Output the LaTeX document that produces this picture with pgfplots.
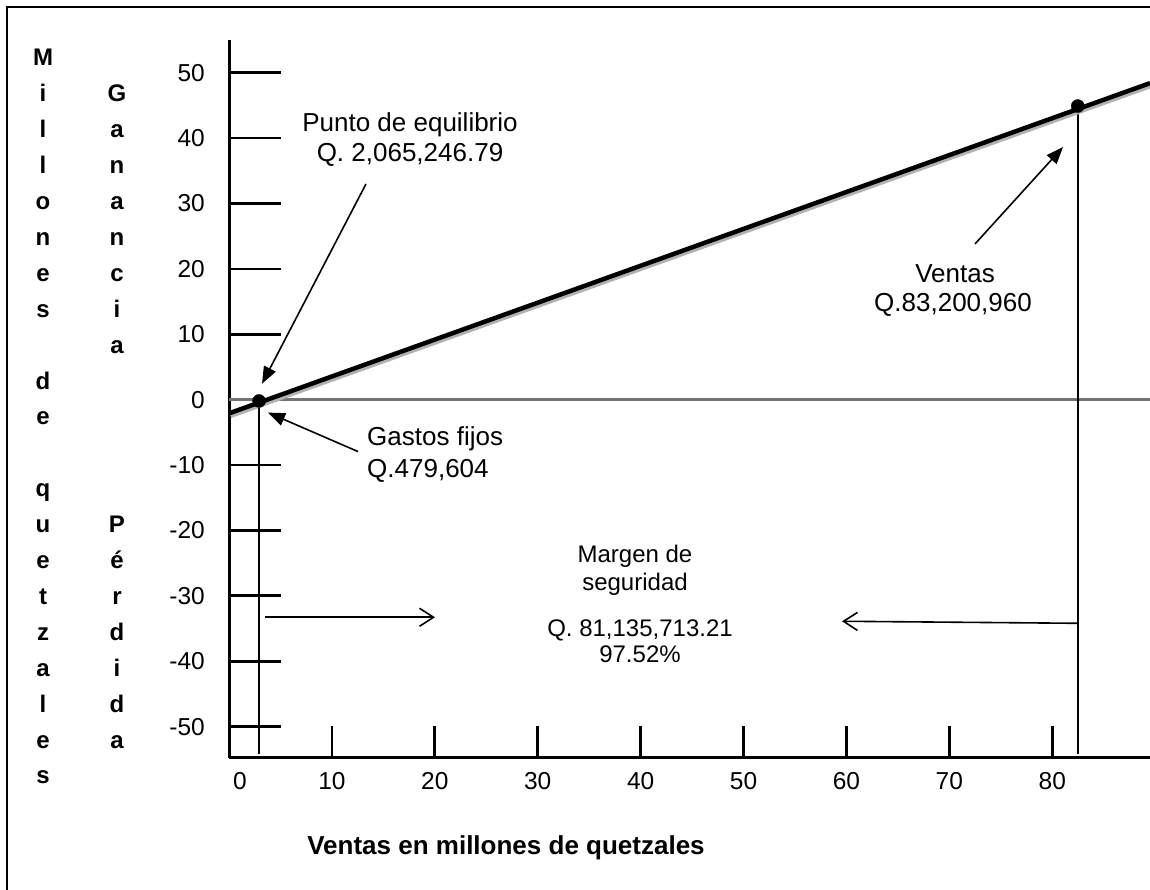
\documentclass[border=0pt]{standalone}
\usepackage{pgfplots}
\pgfplotsset{compat=1.18}
\usepackage{fontspec}
\setmainfont{Liberation Sans}
\usetikzlibrary{arrows.meta}
\begin{document}
\begin{tikzpicture}
\begin{axis}[
  scale only axis, width=921pt, height=718pt,
  at={(229pt,132pt)}, anchor=south west,
  xmin=0, xmax=89.5, ymin=-54.8, ymax=55,
  axis x line=bottom, axis y line=left,
  axis line style={-, line width=3pt, black},
  major tick length=0pt,
  xtick={0,10,20,30,40,50,60,70,80},
  xticklabels={\hspace*{22pt}0,10,20,30,40,50,60,70,80},
  ytick={-50,-40,-30,-20,-10,0,10,20,30,40,50},
  yticklabels={-50,-40,-30,-20,-10,0,10,20,30,40,50},
  tick label style={font=\fontsize{24.5}{28}\selectfont, inner sep=0pt},
  xticklabel style={anchor=north, yshift=-14pt},
  yticklabel style={anchor=east, xshift=-24pt},
  clip=false,
]
% zero line
\addplot[draw=gray!90!black, line width=2.5pt] coordinates {(0,0) (89.5,0)};
% vertical drop lines
\addplot[black, line width=2pt] coordinates {(2.92,0) (2.92,-54.2)};
\addplot[black, line width=2pt] coordinates {(82.48,44.9) (82.48,-54.2)};
% shadow of main line
\addplot[black!30, line width=4.5pt, xshift=1.5pt, yshift=-2.5pt] coordinates {(0,-2.1) (89.5,48.4)};
% main line
\addplot[black, line width=4.5pt] coordinates {(0,-2.1) (89.5,48.4)};
% points
\addplot[only marks, mark=*, mark size=6.5pt, black] coordinates {(2.92,-0.2) (82.48,44.9)};
% ticks
\pgfplotsinvokeforeach{10,20,30,40,50,60,70,80}{\draw[line width=2.7pt] (axis cs:#1,-54.8) -- ([yshift=32pt]axis cs:#1,-54.8);}
\pgfplotsinvokeforeach{-50,-40,-30,-20,-10,10,20,30,40,50}{\draw[line width=2.7pt] (axis cs:0,#1) -- ([xshift=52pt]axis cs:0,#1);}
% arrows
\draw[line width=1.6pt, -{Triangle[length=17pt,width=13pt]}] (axis cs:13.31,32.98) -- (axis cs:3.21,2.44);
\draw[line width=1.6pt, -{Triangle[length=17pt,width=13pt]}] (axis cs:12.54,-7.94) -- (axis cs:3.79,-1.98);
\draw[line width=1.6pt, -{Triangle[length=17pt,width=13pt]}] (axis cs:72.50,23.82) -- (axis cs:81.05,38.63);
\draw[line width=1.6pt, -{Straight Barb[length=14pt,width=18pt]}] (axis cs:3.5,-33.28) -- (axis cs:20.02,-33.28);
\draw[line width=1.6pt, -{Straight Barb[length=14pt,width=18pt]}] (axis cs:82.41,-34.2) -- (axis cs:59.57,-33.89);
\end{axis}
\begin{scope}[x=1pt,y=1pt]
\draw[line width=2pt] (7,0) -- (7,883) -- (1150,883);
\tikzset{ann/.style={font=\fontsize{26}{30}\selectfont, inner sep=0pt}}
\node[ann, anchor=base] at (410,{890-132}) {Punto de equilibrio};
\node[ann, anchor=base] at (410,{890-162}) {Q. 2,065,246.79};
\node[ann, anchor=base west] at (367,{890-446}) {Gastos fijos};
\node[ann, anchor=base west] at (367,{890-478}) {Q.479,604};
\node[ann, anchor=base] at (955,{890-283}) {Ventas};
\node[ann, anchor=base] at (953,{890-312}) {Q.83,200,960};
\tikzset{ann2/.style={font=\fontsize{24}{28}\selectfont, inner sep=0pt}}
\node[ann2, anchor=base] at (635,{890-563}) {Margen de};
\node[ann2, anchor=base] at (635,{890-591}) {seguridad};
\node[ann2, anchor=base] at (640,{890-637}) {Q. 81,135,713.21};
\node[ann2, anchor=base] at (640,{890-663}) {97.52\%};
\node[font=\fontsize{26}{30}\selectfont\bfseries, inner sep=0pt, anchor=base] at (506,{890-855}) {Ventas en millones de quetzales};
\tikzset{vl/.style={font=\fontsize{24}{28}\selectfont\bfseries, inner sep=0pt, anchor=base}}
\foreach \c [count=\i] in {M,i,l,l,o,n,e,s,{},d,e,{},q,u,e,t,z,a,l,e,s}
  \node[vl] at (43,{890-66-(\i-1)*35.9}) {\c};
\foreach \c [count=\i] in {G,a,n,a,n,c,i,a}
  \node[vl] at (117,{890-66-\i*35.9}) {\c};
\foreach \c [count=\i] in {P,é,r,d,i,d,a}
  \node[vl] at (117,{890-66-(\i+12)*35.9}) {\c};
\end{scope}
\pgfresetboundingbox
\path (0,0) rectangle (1150pt,890pt);
\end{tikzpicture}
\end{document}
